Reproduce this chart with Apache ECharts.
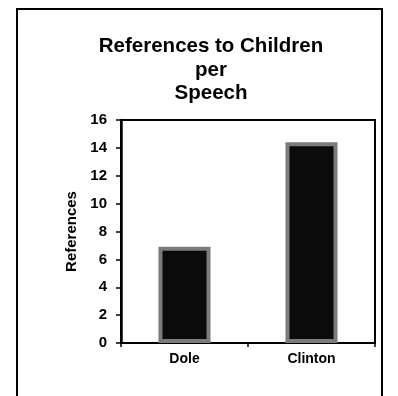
<!DOCTYPE html>
<html>
<head>
<meta charset="utf-8">
<style>
  html, body { margin: 0; padding: 0; background: #fff; }
  #chart { width: 398px; height: 396px; }
</style>
<script src="https://cdn.jsdelivr.net/npm/echarts@6/dist/echarts.min.js"></script>
</head>
<body>
<div id="chart"></div>
<script>
// Speakers and their average references to children per speech
const candidates = ['Dole', 'Clinton'];
const referencesPerSpeech = [6.9, 14.4];
const yTicks = [0, 2, 4, 6, 8, 10, 12, 14, 16];

const FONT = 'Liberation Sans, Arial, Helvetica, sans-serif';

const chart = echarts.init(document.getElementById('chart'), null, { renderer: 'canvas' });

chart.setOption({
  animation: false,
  backgroundColor: '#ffffff',
  title: {
    text: 'References to Children\nper\nSpeech',
    left: 206,
    textAlign: 'center',
    top: 30,
    textStyle: {
      fontFamily: FONT,
      fontWeight: 'bold',
      fontSize: 20.5,
      lineHeight: 23.5,
      color: '#000'
    }
  },
  graphic: [{
    type: 'rect',
    shape: { x: 17, y: 9, width: 365, height: 420 },
    style: { fill: 'none', stroke: '#000', lineWidth: 2 },
    silent: true
  }],
  grid: {
    left: 121, right: 23, top: 120, bottom: 53,
    show: true,
    borderColor: '#000',
    borderWidth: 2,
    backgroundColor: 'transparent'
  },
  xAxis: {
    type: 'category',
    data: candidates,
    axisLine: { lineStyle: { color: '#000', width: 2 } },
    axisTick: { show: true, length: 4, lineStyle: { color: '#000', width: 1.5 } },
    axisLabel: {
      margin: 9,
      fontFamily: FONT,
      fontWeight: 'bold',
      fontSize: 14,
      color: '#000'
    }
  },
  yAxis: {
    type: 'value',
    min: yTicks[0],
    max: yTicks[yTicks.length - 1],
    interval: 2,
    name: 'References',
    nameLocation: 'middle',
    nameRotate: 90,
    nameGap: 42,
    nameTextStyle: {
      fontFamily: FONT,
      fontWeight: 'bold',
      fontSize: 15,
      color: '#000'
    },
    axisLine: { show: true, lineStyle: { color: '#000', width: 2.5 } },
    axisTick: { show: true, length: 5, lineStyle: { color: '#000', width: 1.5 } },
    splitLine: { show: false },
    axisLabel: {
      margin: 14,
      fontFamily: FONT,
      fontWeight: 'bold',
      fontSize: 15,
      color: '#000'
    }
  },
  series: [{
    type: 'bar',
    data: referencesPerSpeech,
    barWidth: '41%',
    itemStyle: {
      color: '#0b0b0b',
      borderColor: '#7c7c7c',
      borderWidth: 4
    }
  }]
});
</script>
</body>
</html>
